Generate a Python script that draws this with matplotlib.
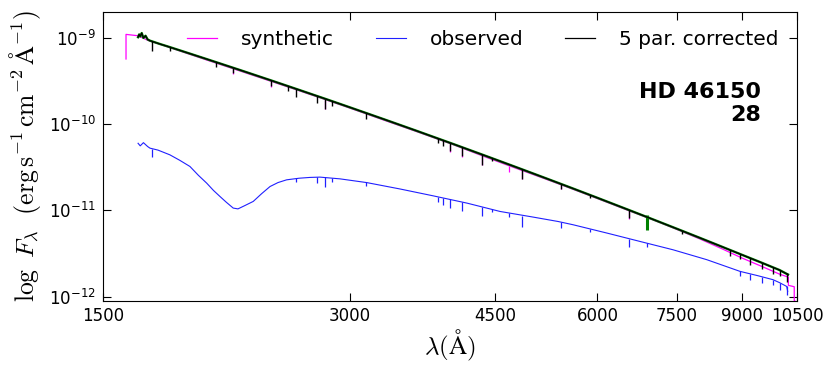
import numpy as np
import matplotlib
matplotlib.use('Agg')
import matplotlib.pyplot as plt
from matplotlib.ticker import NullLocator, LogLocator, FixedLocator

plt.rcParams['mathtext.fontset'] = 'cm'
plt.rcParams['font.family'] = 'DejaVu Sans'

# synthetic spectrum (continuum)
wl_syn = [1600, 1600, 1655, 1700, 1800, 1900, 2000, 2200, 2400, 2600, 2800, 3000, 3300,
          3600, 4000, 4400, 4800, 5200, 5600, 6000, 6500, 7000, 7500, 8000, 8500, 9000,
          9500, 10000, 10250, 10250, 10420, 10420, 10500]
flux_syn = [5.7e-10, 1.10e-9, 1.06e-9, 9.4e-10, 7.85e-10, 6.6e-10, 5.6e-10, 4.15e-10,
            3.15e-10, 2.44e-10, 1.92e-10, 1.53e-10, 1.11e-10, 8.3e-11, 5.8e-11, 4.1e-11,
            3.02e-11, 2.29e-11, 1.76e-11, 1.37e-11, 1.02e-11, 7.8e-12, 6.0e-12, 4.65e-12,
            3.6e-12, 2.8e-12, 2.25e-12, 1.82e-12, 1.68e-12, 1.35e-12, 1.3e-12, 9.0e-13, 8.5e-13]

# observed spectrum
wl_obs = [1655, 1665, 1680, 1700, 1711, 1750, 1809, 1860, 1914, 1960, 2006, 2045, 2082,
          2120, 2161, 2190, 2230, 2286, 2340, 2396, 2450, 2510, 2600, 2680, 2756, 2915,
          3142, 3450, 3783, 4160, 4567, 5009, 5373, 5604, 6159, 6761, 7417, 8152, 8950,
          9400, 9817, 10000, 10202, 10230]
flux_obs = [6.0e-11, 5.6e-11, 6.1e-11, 5.5e-11, 5.27e-11, 5.0e-11, 4.41e-11, 3.81e-11,
            3.23e-11, 2.55e-11, 2.07e-11, 1.70e-11, 1.45e-11, 1.24e-11, 1.063e-11, 1.04e-11,
            1.13e-11, 1.27e-11, 1.56e-11, 1.89e-11, 2.10e-11, 2.26e-11, 2.36e-11, 2.41e-11,
            2.43e-11, 2.32e-11, 2.10e-11, 1.77e-11, 1.476e-11, 1.215e-11, 9.71e-12, 8.36e-12,
            7.43e-12, 6.81e-12, 5.46e-12, 4.36e-12, 3.49e-12, 2.68e-12, 1.96e-12, 1.75e-12,
            1.57e-12, 1.45e-12, 1.31e-12, 1.15e-12]

# 5 parameter corrected spectrum
wl_corr = [1655, 1660, 1665, 1672, 1680, 1690, 1700, 1711, 1730, 1760, 1800, 1900, 2000,
           2200, 2400, 2600, 2800, 3000, 3300, 3600, 4000, 4400, 4800, 5200, 5600, 6000,
           6500, 7000, 7500, 8000, 8500, 9000, 9500, 10000, 10240]
flux_corr = [1.02e-9, 1.10e-9, 1.04e-9, 1.14e-9, 1.0e-9, 1.06e-9, 9.6e-10, 9.3e-10,
             8.98e-10, 8.5e-10, 7.95e-10, 6.73e-10, 5.74e-10, 4.26e-10, 3.23e-10, 2.495e-10,
             1.961e-10, 1.562e-10, 1.137e-10, 8.48e-11, 5.91e-11, 4.24e-11, 3.12e-11,
             2.346e-11, 1.797e-11, 1.398e-11, 1.041e-11, 7.91e-12, 6.11e-12, 4.79e-12,
             3.80e-12, 3.05e-12, 2.48e-12, 2.03e-12, 1.80e-12]

# absorption lines: wavelength, flux at continuum, flux at line bottom
corr_line_wl = [1720, 1810, 2060, 2160, 2400, 2520, 2580, 2730, 2795, 2850, 3140, 3835,
                3889, 3970, 4102, 4340, 4471, 4861, 5411, 5876, 6563, 7600,
                8703, 8950, 9204, 9518, 9817, 10011, 10211]
corr_line_top = [9.14e-10, 7.82e-10, 5.24e-10, 4.52e-10, 3.23e-10, 2.76e-10, 2.56e-10,
                 2.13e-10, 1.97e-10, 1.85e-10, 1.342e-10, 6.82e-11, 6.51e-11, 6.06e-11,
                 5.41e-11, 4.45e-11, 4.01e-11, 2.985e-11, 2.03e-11, 1.51e-11, 1.006e-11,
                 5.82e-12, 3.48e-12, 3.13e-12, 2.80e-12, 2.46e-12, 2.18e-12, 2.02e-12, 1.87e-12]
corr_line_bot = [7.0e-10, 7.03e-10, 4.59e-10, 3.95e-10, 2.75e-10, 2.42e-10, 2.07e-10,
                 1.77e-10, 1.51e-10, 1.62e-10, 1.143e-10, 5.97e-11, 5.55e-11, 4.90e-11,
                 4.26e-11, 3.40e-11, 3.70e-11, 2.29e-11, 1.78e-11, 1.393e-11, 8.12e-12,
                 5.37e-12, 2.96e-12, 2.73e-12, 2.32e-12, 2.10e-12, 1.81e-12, 1.72e-12, 1.47e-12]

syn_line_wl = [2160, 2400, 2795, 3970, 4102, 4340, 4686, 4861, 5411, 6563]
syn_line_top = [4.35e-10, 3.12e-10, 1.9e-10, 5.85e-11, 5.2e-11, 4.3e-11, 3.3e-11, 2.9e-11,
                1.98e-11, 9.8e-12]
syn_line_bot = [3.85e-10, 2.7e-10, 1.5e-10, 4.8e-11, 4.2e-11, 3.35e-11, 2.75e-11, 2.3e-11,
                1.75e-11, 7.9e-12]

obs_line_wl = [1720, 2580, 2730, 2795, 2850, 3140, 3835, 3889, 3970, 4102, 4340, 4471,
               4686, 4861, 5411, 5876, 6563, 6900, 8950, 9204, 9518, 9817, 10011, 10211]
obs_line_top = [5.17e-11, 2.36e-11, 2.42e-11, 2.42e-11, 2.37e-11, 2.105e-11, 1.437e-11,
                1.40e-11, 1.337e-11, 1.248e-11, 1.101e-11, 1.027e-11, 9.33e-12, 8.66e-12,
                7.32e-12, 6.09e-12, 4.69e-12, 4.16e-12, 1.96e-12, 1.82e-12, 1.68e-12,
                1.57e-12, 1.45e-12, 1.31e-12]
obs_line_bot = [4.18e-11, 2.12e-11, 2.06e-11, 1.85e-11, 2.13e-11, 1.94e-11, 1.258e-11,
                1.161e-11, 1.052e-11, 9.81e-12, 8.66e-12, 9.48e-12, 8.39e-12, 6.46e-12,
                6.23e-12, 5.62e-12, 3.79e-12, 3.74e-12, 1.71e-12, 1.55e-12, 1.43e-12,
                1.37e-12, 1.20e-12, 1.03e-12]

tell_wl = [6900]
tell_top = [8.81e-12]
tell_bot = [5.90e-12]

xticks = [1500, 3000, 4500, 6000, 7500, 9000, 10500]

fig = plt.figure(figsize=(8.3, 3.68), dpi=100)
ax = fig.add_axes([0.1241, 0.1834, 0.8361, 0.784])

ax.plot(wl_syn, flux_syn, color='magenta', lw=0.9, label='synthetic')
ax.vlines(syn_line_wl, syn_line_bot, syn_line_top, color='magenta', lw=0.9)
ax.plot(wl_obs, flux_obs, color='#2020ff', lw=0.8, label='observed')
ax.vlines(obs_line_wl, obs_line_bot, obs_line_top, color='#2020ff', lw=0.9)
ax.plot(wl_corr, flux_corr, color='green', lw=1.7)
ax.vlines(tell_wl, tell_bot, tell_top, color='green', lw=2.2)
ax.plot(wl_corr, flux_corr, color='black', lw=0.9, label='5 par. corrected')
ax.vlines(corr_line_wl, corr_line_bot, corr_line_top, color='black', lw=1.0)

ax.set_xscale('log')
ax.set_yscale('log')
ax.set_xlim(1500, 10500)
ax.set_ylim(9e-13, 2e-9)
ax.xaxis.set_major_locator(FixedLocator(xticks))
ax.set_xticklabels([str(t) for t in xticks])
ax.xaxis.set_minor_locator(NullLocator())
ax.yaxis.set_major_locator(LogLocator(base=10))
ax.yaxis.set_minor_locator(NullLocator())
ax.tick_params(direction='in', top=True, right=True, length=6, labelsize=12, pad=5)

ax.set_xlabel(r'$\lambda(\mathrm{\AA})$', fontsize=18, labelpad=2)
ax.set_ylabel(r'$\log\ F_\lambda\ \ (\mathrm{erg\,s^{-1}\,cm^{-2}\,\AA^{-1}})$', fontsize=18.5,
              labelpad=4)

ax.legend(loc='upper right', ncol=3, frameon=False, fontsize=14.5, handlelength=1.5,
          handletextpad=1.2, columnspacing=2.05)
ax.text(0.948, 0.682, 'HD 46150\n28', transform=ax.transAxes, ha='right', va='center',
        fontsize=16, fontweight='bold', multialignment='right')

fig.savefig('out.png', dpi=100)
